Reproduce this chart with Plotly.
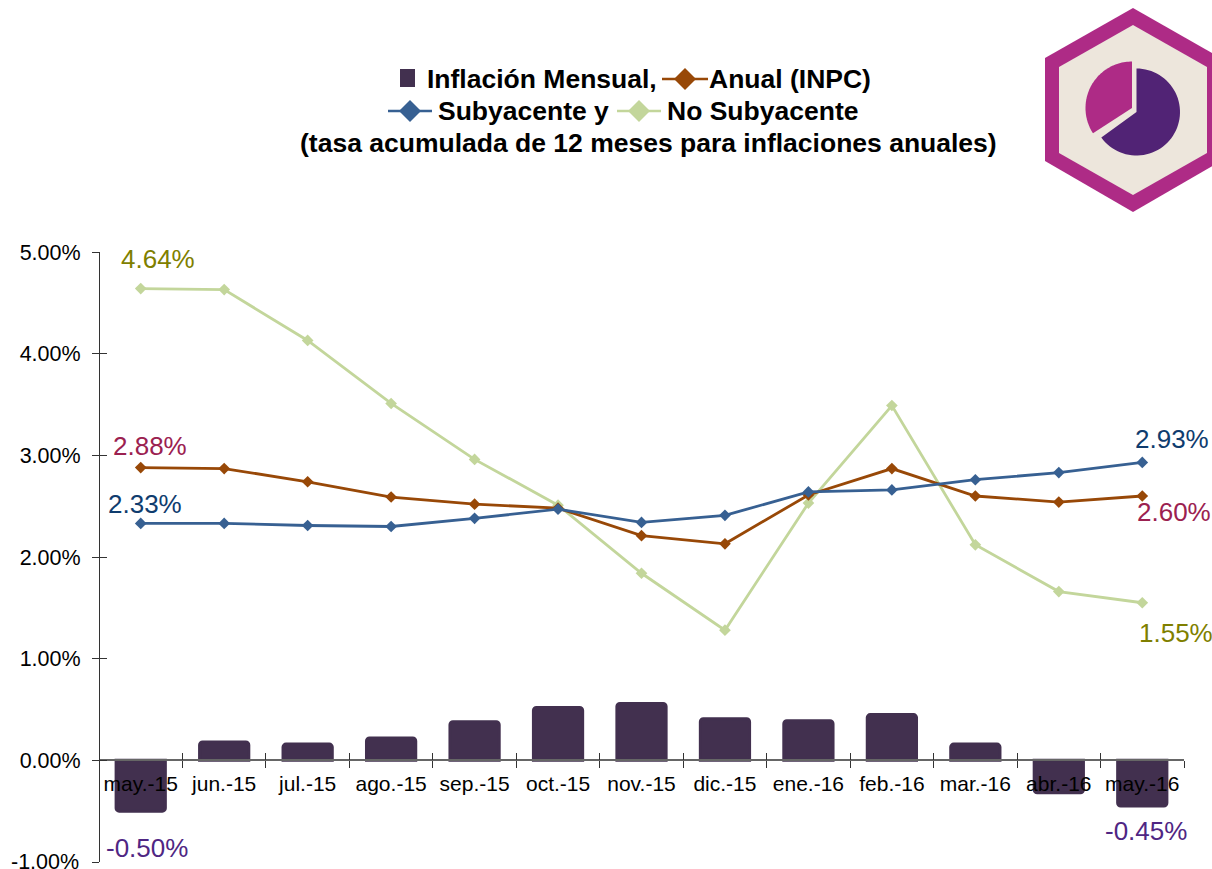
import numpy as np
import plotly.graph_objects as go

months = ["may.-15", "jun.-15", "jul.-15", "ago.-15", "sep.-15", "oct.-15", "nov.-15",
          "dic.-15", "ene.-16", "feb.-16", "mar.-16", "abr.-16", "may.-16"]
mensual = [-0.50, 0.18, 0.16, 0.22, 0.38, 0.52, 0.56, 0.41, 0.39, 0.45, 0.16, -0.32, -0.45]
anual = [2.88, 2.87, 2.74, 2.59, 2.52, 2.48, 2.21, 2.13, 2.61, 2.87, 2.60, 2.54, 2.60]
subyacente = [2.33, 2.33, 2.31, 2.30, 2.38, 2.47, 2.34, 2.41, 2.64, 2.66, 2.76, 2.83, 2.93]
no_subyacente = [4.64, 4.63, 4.13, 3.51, 2.96, 2.51, 1.84, 1.28, 2.53, 3.49, 2.12, 1.66, 1.55]
ytick_vals = [-1, 0, 1, 2, 3, 4, 5]
ytick_text = ["-1.00%", "0.00%", "1.00%", "2.00%", "3.00%", "4.00%", "5.00%"]

C_BAR, C_ANUAL, C_SUB, C_NO = "#42304F", "#984807", "#376092", "#C3D69B"
C_LAB_NO, C_LAB_AN, C_LAB_SUB, C_LAB_BAR = "#7F7F00", "#9B2150", "#0F3C6E", "#4F2683"
MAGENTA, PURPLE, CREAM = "#AE2B86", "#512375", "#EDE6DC"
FONT = "Liberation Sans"

L, R, T, B = 99, 1184, 252, 862
W, H = R - L, B - T
px = lambda x: (x - L) / W
py = lambda y: (B - y) / H


def path(points):
    return "M" + " L".join(f"{px(x):.5f},{py(y):.5f}" for x, y in points) + " Z"


def poly(points, color):
    return dict(type="path", xref="paper", yref="paper", path=path(points),
                fillcolor=color, line=dict(width=0), layer="above")


def sector(cx, cy, r, a0, a1, color):
    angles = np.radians(np.linspace(a0, a1, 60))
    pts = [(cx, cy)] + [(cx + r * np.sin(a), cy - r * np.cos(a)) for a in angles]
    return poly(pts, color)


def key_line(x0, x1, y, color):
    xc = (x0 + x1) / 2
    d = 11
    return [
        dict(type="line", xref="paper", yref="paper", x0=px(x0), x1=px(x1), y0=py(y), y1=py(y),
             line=dict(color=color, width=2.5)),
        poly([(xc - d, y), (xc, y - d), (xc + d, y), (xc, y + d)], color),
    ]


fig = go.Figure()
fig.add_trace(go.Bar(x=months, y=mensual, xaxis="x", yaxis="y", width=0.59,
                     marker=dict(color=C_BAR, line=dict(color=C_BAR, width=3), cornerradius=3),
                     showlegend=False))
for vals, col in [(no_subyacente, C_NO), (anual, C_ANUAL), (subyacente, C_SUB)]:
    fig.add_trace(go.Scatter(x=months, y=vals, xaxis="x2", yaxis="y2", mode="lines+markers",
                             line=dict(color=col, width=2.8),
                             marker=dict(symbol="diamond", size=9, color=col),
                             showlegend=False))

shapes = [
    poly([(1133, 8), (1221, 58), (1221, 161), (1133, 212), (1045, 161), (1045, 58)], MAGENTA),
    poly([(1133, 25), (1207, 67), (1207, 153), (1133, 195), (1059, 153), (1059, 67)], CREAM),
    sector(1136.5, 112, 43.5, 0, 234, PURPLE),
    sector(1132, 108, 46.5, 237, 360, MAGENTA),
    poly([(400, 69), (415, 69), (415, 87), (400, 87)], C_BAR),
]
shapes += key_line(662, 708, 79, C_ANUAL)
shapes += key_line(388, 432, 111, C_SUB)
shapes += key_line(617, 661, 111, C_NO)

annotations = []
for txt, x, y, anchor in [("Inflación Mensual,", 427, 79, "left"), ("Anual (INPC)", 709, 79, "left"),
                          ("Subyacente y", 438, 111, "left"), ("No Subyacente", 667, 111, "left"),
                          ("(tasa acumulada de 12 meses para inflaciones anuales)", 648, 143, "center")]:
    annotations.append(dict(text=f"<b>{txt}</b>", xref="paper", yref="paper", x=px(x), y=py(y),
                            xanchor=anchor, yanchor="middle", showarrow=False,
                            font=dict(family=FONT, size=26.5, color="black"), borderpad=0, borderwidth=0))

labels = [("4.64%", 0, no_subyacente[0], C_LAB_NO, 17, 30),
          ("2.88%", 0, anual[0], C_LAB_AN, 9, 22),
          ("2.33%", 0, subyacente[0], C_LAB_SUB, 4, 19),
          ("-0.50%", 0, mensual[0], C_LAB_BAR, 6, -37),
          ("2.93%", 12, subyacente[12], C_LAB_SUB, 30, 23),
          ("2.60%", 12, anual[12], C_LAB_AN, 32, -16),
          ("1.55%", 12, no_subyacente[12], C_LAB_NO, 34, -30),
          ("-0.45%", 12, mensual[12], C_LAB_BAR, 4, -25)]
for txt, i, v, col, dx, dy in labels:
    annotations.append(dict(text=txt, xref="x", yref="y", x=months[i], y=v, xshift=dx, yshift=dy,
                            showarrow=False, font=dict(family=FONT, size=26, color=col)))
# The lowest tick label sits partly past the page edge, as in the reference.
annotations.append(dict(text=ytick_text[0], xref="paper", yref="y", x=px(80.5), y=ytick_vals[0],
                        xanchor="right", yanchor="middle", showarrow=False,
                        font=dict(family=FONT, size=21.5, color="black")))

x_common = dict(type="category", categoryorder="array", categoryarray=months, range=[-0.5, 12.5],
                tickson="boundaries", showgrid=False, zeroline=False, showline=True,
                linecolor="#666666", linewidth=1.5, tickcolor="#333333", tickwidth=1, ticklen=7,
                anchor="free", position=1 / 6)
y_common = dict(range=[-1, 5], showgrid=False, zeroline=False,
                showline=True, linecolor="#333333", linewidth=1.2, tickcolor="#333333", tickwidth=1,
                ticklen=7, anchor="free", position=0, tickvals=ytick_vals)

fig.update_layout(
    width=1212, height=869, autosize=False, plot_bgcolor="white", paper_bgcolor="white",
    margin=dict(l=L, r=1212 - R, t=T, b=869 - B, pad=0),
    font=dict(family=FONT, color="black", size=21), bargap=0.4, barmode="overlay",
    xaxis=dict(**x_common, ticks="outside", tickangle=0, tickfont=dict(family=FONT, size=21, color="black"),
               ticklabelstandoff=5),
    xaxis2=dict(**x_common, overlaying="x", ticks="inside", showticklabels=False),
    yaxis=dict(**y_common, ticktext=ytick_text, ticks="outside",
               tickfont=dict(family=FONT, size=21.5, color="black"), ticklabelstandoff=7),
    yaxis2=dict(**y_common, overlaying="y", ticks="inside", showticklabels=False),
    shapes=shapes, annotations=annotations,
)
fig.write_html("out.html", config={"displayModeBar": False},
               post_script="document.body.style.margin='0';document.body.style.overflow='hidden';")
